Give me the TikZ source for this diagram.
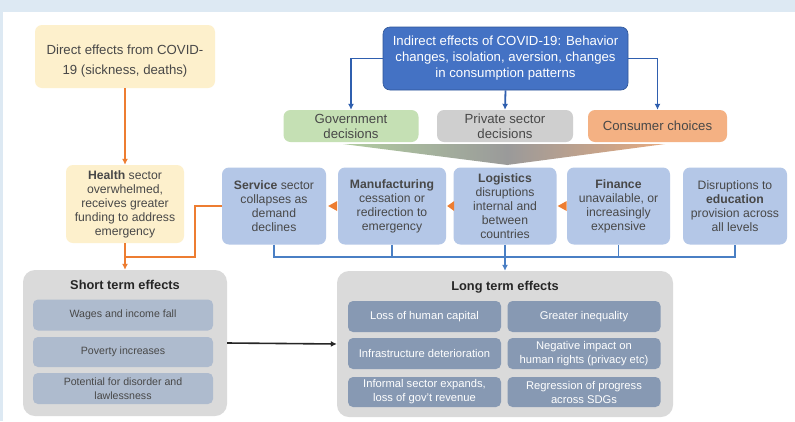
\documentclass[tikz,border=0pt]{standalone}
\usepackage{fontspec}
\setmainfont{Liberation Sans}
\usetikzlibrary{arrows.meta,calc}
\definecolor{bgblue}{HTML}{DDE9F3}
\definecolor{txt}{HTML}{484848}
\definecolor{yel}{HTML}{FDF0CC}
\definecolor{indblue}{HTML}{4472C4}
\definecolor{indborder}{HTML}{2F5597}
\definecolor{govgreen}{HTML}{C5E0B4}
\definecolor{privgrey}{HTML}{CFCFCF}
\definecolor{consorange}{HTML}{F4B183}
\definecolor{secblue}{HTML}{B4C7E7}
\definecolor{outergrey}{HTML}{DADADA}
\definecolor{shortin}{HTML}{AEBBCE}
\definecolor{longin}{HTML}{8799B3}
\definecolor{orline}{HTML}{ED7D31}
\definecolor{conblue}{HTML}{2F5FAF}
\definecolor{busblue}{HTML}{4A7FC4}
\definecolor{fgreen}{HTML}{A3C38F}
\definecolor{fgrey}{HTML}{9A9A9A}
\definecolor{forange}{HTML}{E3A070}
\newcommand\fz[2]{\fontsize{#1}{#2}\selectfont}
\tikzset{
  box/.style={rounded corners=7pt, align=center, inner sep=0pt, text=txt, font=\fz{12.2}{14}},
  yelbox/.style={box, fill=yel},
  secbox/.style={box, fill=secblue, minimum height=77pt},
  toprow/.style={box, minimum width=135pt, minimum height=32pt, font=\fz{13.2}{15}},
  outer/.style={rounded corners=12pt, fill=outergrey, inner sep=0pt},
  sin/.style={box, fill=shortin, rounded corners=5pt, minimum width=180pt, font=\fz{10.6}{14}},
  lin/.style={box, fill=longin, rounded corners=5pt, minimum width=153pt, minimum height=31pt, text=white, font=\fz{11.2}{14}},
  orconn/.style={draw=orline, line width=1.8pt},
  blconn/.style={draw=conblue, line width=1.8pt},
  busconn/.style={draw=busblue, line width=1.8pt},
  arr/.style={-{Latex[length=6pt,width=6pt]}},
  tri/.style={fill=orline},
}
\begin{document}
\begin{tikzpicture}[x=1pt,y=-1pt]
\useasboundingbox (0,0) rectangle (795,421);
\fill[bgblue] (0,0) rectangle (795,421);
\fill[white] (3,12) rectangle (795,421);

% funnel
\shade[left color=fgreen!85!white, right color=fgrey] (343,144) -- (507.5,144) -- (507.5,165) -- cycle;
\shade[left color=fgrey, right color=forange!90!white] (507,144) -- (665,144) -- (507,165) -- cycle;

% top
\node[yelbox, minimum width=180pt, minimum height=63pt] (direct) at (125,56.5) {};
\node[text=txt, align=center, inner sep=0pt, font=\fz{13.2}{20}] (directtxt) at ($(direct.center)+(0,5)$)
  {Direct effects from COVID-\\19 (sickness, deaths)};
\node[box, fill=indblue, draw=indborder, line width=0.6pt, text=white, minimum width=245pt, minimum height=63pt, font=\fz{13.2}{16}] (indirect) at (505.5,58.5)
  {Indirect effects of COVID-19: Behavior\\changes, isolation, aversion, changes\\in consumption patterns};
\node[toprow, fill=govgreen] (gov) at (351,126) {Government\\decisions};
\node[toprow, fill=privgrey, minimum width=136pt] (priv) at (505,126) {Private sector\\decisions};
\node[toprow, fill=consorange, minimum width=139pt] (cons) at (657.5,126) {Consumer choices};

% health + sectors
\node[yelbox, minimum width=118pt, minimum height=78pt] (health) at (125,204)
  {\textbf{Health} sector\\overwhelmed,\\receives greater\\funding to address\\emergency};
\node[secbox, minimum width=104pt] (serv) at (274,206)
  {\textbf{Service} sector\\collapses as\\demand\\declines};
\node[secbox, minimum width=108pt] (manu) at (392,206)
  {\textbf{Manufacturing}\\cessation or\\redirection to\\emergency};
\node[secbox, minimum width=103pt] (logi) at (505,206)
  {\textbf{Logistics}\\disruptions\\internal and\\between\\countries};
\node[secbox, minimum width=103pt] (fin) at (618.5,206)
  {\textbf{Finance}\\unavailable, or\\increasingly\\expensive};
\node[secbox, minimum width=104pt] (edu) at (735,206)
  {Disruptions to\\\textbf{education}\\provision across\\all levels};

% short term
\node[outer, minimum width=204pt, minimum height=146pt] (short) at (125,343) {};
\node[font=\bfseries\fz{12.8}{14}, text=black!85] (stitle) at (125,285) {Short term effects};
\node[sin, minimum height=31pt] (s1) at (123,315) {Wages and income fall};
\node[sin, minimum height=30pt] (s2) at (123,352) {Poverty increases};
\node[sin, minimum height=31pt] (s3) at (123,388.5) {Potential for disorder and\\lawlessness};

% long term
\node[outer, minimum width=336pt, minimum height=146pt] (long) at (505,344) {};
\node[font=\bfseries\fz{12.8}{14}, text=black!85] (ltitle) at (505,287) {Long term effects};
\node[lin] (l1) at (424.5,316.5) {Loss of human capital};
\node[lin] (l2) at (584,316.5) {Greater inequality};
\node[lin] (l3) at (424.5,353.5) {Infrastructure deterioration};
\node[lin] (l4) at (584,353.5) {Negative impact on\\human rights (privacy etc)};
\node[lin, minimum height=30pt] (l5) at (424.5,392) {Informal sector expands,\\loss of gov't revenue};
\node[lin, minimum height=30pt] (l6) at (584,392) {Regression of progress\\across SDGs};

% blue connectors from indirect
\draw[blconn, arr] (indirect.west) -| (gov.north);
\draw[blconn, arr] (indirect.south) -- (priv.north);
\draw[blconn, arr] (indirect.east) -| (cons.north);

% orange connectors
\coordinate (ojoin) at (125,257);
\draw[orconn, arr] (direct.south) -- (health.north);
\draw[orconn] (serv.west) -- ++(-27,0) |- (ojoin);
\draw[orconn, arr] (health.south) -- (short.north);
\fill[tri] ($(serv.east)+(2,0)$) -- ++(9,-5) -- ++(0,10) -- cycle;
\fill[tri] ($(manu.east)+(1,0)$) -- ++(7,-5) -- ++(0,10) -- cycle;
\fill[tri] ($(logi.east)+(1,0)$) -- ++(9,-5) -- ++(0,10) -- cycle;

% blue bus
\coordinate (busy) at (505,257);
\draw[busconn] (serv.south) |- (edu.south |- busy) -- (edu.south);
\draw[busconn] (manu.south) -- (manu.south |- busy);
\draw[busconn] (fin.south) -- (fin.south |- busy);
\draw[busconn] (logi.south) -- (busy);
\draw[busconn, arr] (busy) -- (long.north);

% short -> long
\draw[line width=1.6pt, black!85, arr] (short.east) -- (long.west);
\end{tikzpicture}
\end{document}
